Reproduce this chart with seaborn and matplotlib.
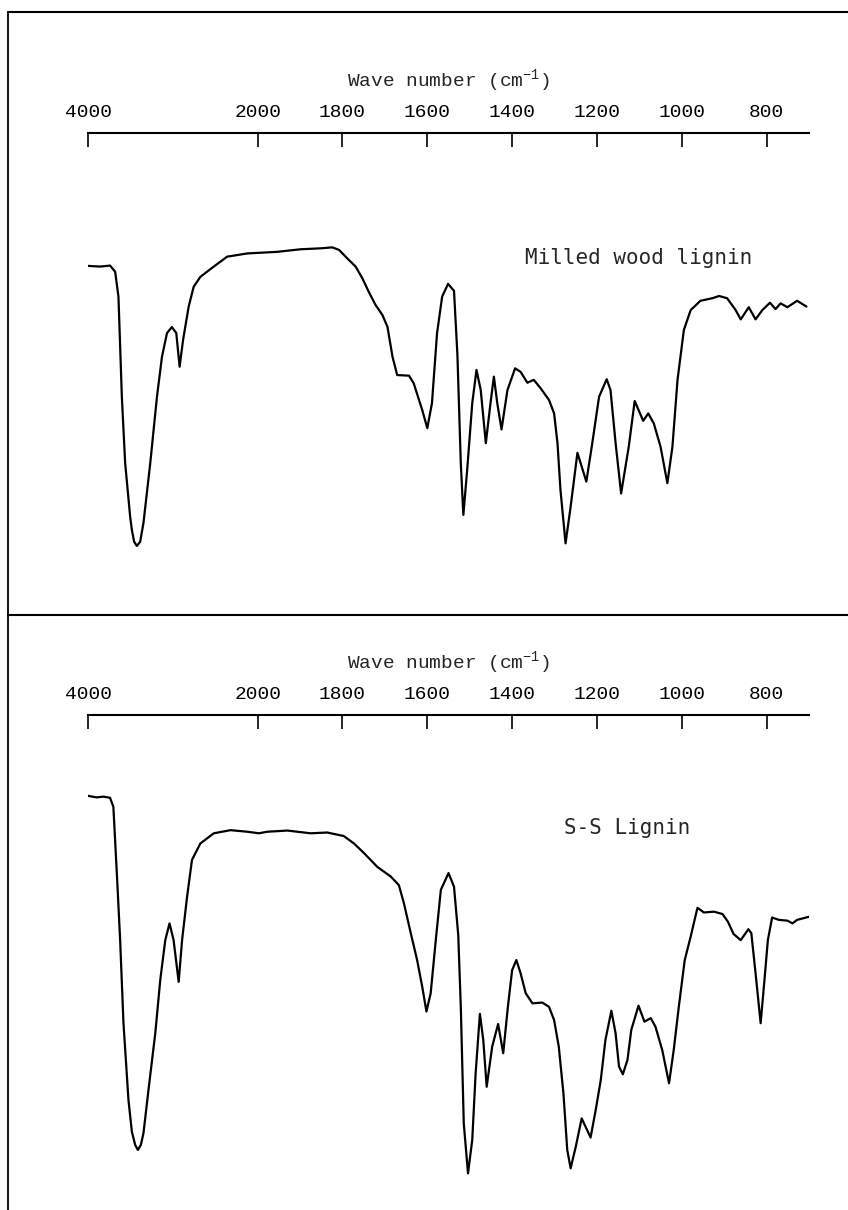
import numpy as np
import pandas as pd
import matplotlib
matplotlib.use("Agg")
import matplotlib.pyplot as plt
from matplotlib.lines import Line2D
from matplotlib.ticker import NullLocator
import seaborn as sns

# ---------------- data ----------------
tick_values = [4000, 2000, 1800, 1600, 1400, 1200, 1000, 800]
tick_labels = ["4000", "2000", "1800", "1600", "1400", "1200", "1000", "800"]

mwl_wavenumber = [4000, 3858, 3740, 3680, 3641, 3621, 3601, 3562, 3503, 3483,
                  3456, 3424, 3385, 3346, 3266, 3187, 3128, 3069, 3011, 2959,
                  2920, 2879, 2813, 2754, 2675, 2517, 2359, 2122, 1954, 1899,
                  1851, 1824, 1808, 1789, 1769, 1753, 1738, 1722, 1706, 1694,
                  1682, 1671, 1643, 1632, 1612, 1600, 1589, 1577, 1565, 1551,
                  1537, 1529, 1521, 1515, 1506, 1494, 1484, 1474, 1462, 1451,
                  1443, 1435, 1425, 1411, 1393, 1380, 1364, 1349, 1333, 1313,
                  1301, 1293, 1286, 1274, 1262, 1246, 1225, 1211, 1195, 1177,
                  1168, 1156, 1143, 1125, 1111, 1091, 1079, 1066, 1050, 1034,
                  1022, 1010, 995, 979, 956, 928, 912, 893, 873, 861,
                  842, 826, 810, 792, 779, 767, 751, 728, 706]
mwl_transmittance = [91.9, 91.7, 92.0, 90.1, 82.3, 66.7, 51.0, 30.3, 13.5, 9.4,
                     5.7, 4.4, 5.7, 11.6, 30.3, 51.0, 63.5, 70.9, 72.8, 70.9,
                     60.4, 68.8, 79.2, 85.4, 88.5, 91.7, 94.8, 95.8, 96.3, 97.1,
                     97.4, 97.7, 96.9, 94.3, 91.7, 88.0, 83.8, 79.7, 76.6, 72.9,
                     63.5, 57.8, 57.6, 55.2, 46.9, 41.2, 49.0, 70.9, 82.3, 86.3,
                     84.1, 64.1, 30.2, 14.1, 28.1, 49.0, 59.4, 53.1, 36.5, 49.0,
                     57.3, 49.0, 40.8, 53.1, 59.9, 58.8, 55.4, 56.3, 53.7, 50.0,
                     45.8, 36.5, 21.9, 5.2, 16.7, 33.5, 24.5, 36.5, 51.0, 56.5,
                     53.1, 36.5, 20.8, 35.4, 49.7, 43.5, 45.8, 42.7, 35.4, 24.0,
                     35.4, 56.3, 71.9, 78.1, 81.0, 81.8, 82.5, 81.8, 78.1, 75.2,
                     79.0, 75.2, 78.1, 80.4, 78.4, 80.2, 79.0, 81.0, 79.2]

ss_wavenumber = [4000, 3898, 3819, 3740, 3701, 3660, 3621, 3582, 3523, 3483,
                 3444, 3412, 3377, 3346, 3287, 3207, 3148, 3089, 3039, 2991,
                 2931, 2891, 2832, 2774, 2675, 2517, 2320, 2122, 1997, 1977,
                 1930, 1875, 1836, 1797, 1773, 1749, 1718, 1686, 1667, 1655,
                 1639, 1624, 1612, 1602, 1592, 1580, 1568, 1550, 1537, 1527,
                 1521, 1514, 1504, 1494, 1486, 1476, 1468, 1460, 1447, 1433,
                 1421, 1410, 1400, 1390, 1380, 1368, 1352, 1329, 1313, 1301,
                 1290, 1279, 1270, 1262, 1250, 1236, 1215, 1203, 1191, 1180,
                 1166, 1156, 1148, 1139, 1128, 1119, 1102, 1088, 1073, 1062,
                 1046, 1030, 1019, 1007, 993, 979, 963, 948, 924, 904,
                 891, 878, 861, 843, 836, 826, 814, 805, 797, 787,
                 771, 751, 739, 728, 700]
ss_transmittance = [98.5, 98.1, 98.3, 98.0, 95.7, 78.6, 61.5, 40.3, 20.5, 12.4,
                    9.0, 7.7, 9.0, 12.0, 23.1, 37.6, 51.3, 61.5, 65.8, 61.5,
                    50.8, 61.5, 72.6, 82.1, 86.3, 88.9, 89.7, 89.3, 88.9, 89.3,
                    89.6, 88.9, 89.1, 88.2, 86.3, 83.8, 80.3, 77.8, 75.6, 70.9,
                    63.3, 56.4, 49.6, 43.2, 47.9, 61.5, 74.4, 78.7, 75.2, 62.8,
                    44.4, 14.5, 1.7, 10.3, 27.4, 42.6, 35.9, 23.9, 34.2, 40.0,
                    32.5, 44.4, 53.8, 56.4, 53.0, 47.9, 45.3, 45.5, 44.4, 41.0,
                    34.2, 22.2, 7.7, 3.0, 8.5, 15.8, 10.9, 17.9, 25.6, 35.9,
                    43.4, 37.6, 29.1, 27.1, 30.8, 38.5, 44.7, 40.6, 41.5, 39.3,
                    33.3, 24.8, 33.3, 44.4, 56.4, 62.4, 69.8, 68.6, 68.8, 68.2,
                    66.2, 63.1, 61.5, 64.3, 63.3, 53.0, 40.2, 51.3, 61.5, 67.3,
                    66.7, 66.5, 65.8, 66.7, 67.5]

panel_names = ["Milled wood lignin", "S-S Lignin"]
axis_title = r"Wave number (cm$^{\mathtt{-1}}$)"

# ---------------- style ----------------
sns.set_style("white")
plt.rcParams["font.family"] = ["Liberation Mono", "DejaVu Sans Mono"]
plt.rcParams["mathtext.fontset"] = "custom"
plt.rcParams["mathtext.tt"] = "Liberation Mono"
plt.rcParams["mathtext.rm"] = "Liberation Mono"

W, H = 848, 1210
fig = plt.figure(figsize=(W / 100, H / 100), dpi=100)


def fwd(x):
    x = np.asarray(x, dtype=float)
    return np.where(x > 2000, 2000 + (x - 2000) / 5.0, x)


def inv(u):
    u = np.asarray(u, dtype=float)
    return np.where(u > 2000, 2000 + (u - 2000) * 5.0, u)


# layout in pixels: (axes top, axes bottom, T reference bottom, px per T unit)
left_px, width_px = 88, 721
panels = [
    dict(top=133, bottom=600, ref=560, scale=3.2,
         wn=mwl_wavenumber, tr=mwl_transmittance, name=panel_names[0],
         name_pos=(1102, 94.4)),
    dict(top=715, bottom=1205, ref=1180, scale=3.9,
         wn=ss_wavenumber, tr=ss_transmittance, name=panel_names[1],
         name_pos=(1128, 90.3)),
]

for p in panels:
    ax = fig.add_axes([left_px / W, 1 - p["bottom"] / H, width_px / W,
                       (p["bottom"] - p["top"]) / H])
    df = pd.DataFrame({"wavenumber": p["wn"], "transmittance": p["tr"]})
    sns.lineplot(data=df, x="wavenumber", y="transmittance", ax=ax, sort=False,
                 estimator=None, color="black", linewidth=1.6)
    for ln in ax.get_lines():
        ln.set_solid_joinstyle("round")
        ln.set_solid_capstyle("round")
    ax.set_xscale("function", functions=(fwd, inv))
    ax.set_xlim(4000, 700)
    ax.set_ylim((p["ref"] - p["bottom"]) / p["scale"],
                (p["ref"] - p["top"]) / p["scale"])
    ax.set_xticks(tick_values)
    ax.set_xticklabels(tick_labels)
    ax.xaxis.set_minor_locator(NullLocator())
    ax.xaxis.tick_top()
    ax.xaxis.set_label_position("top")
    ax.tick_params(axis="x", direction="in", length=10, width=1.2,
                   pad=8.5, labelsize=14, colors="black")
    ax.set_yticks([])
    ax.set_ylabel("")
    ax.set_xlabel(axis_title, fontsize=14, labelpad=12)
    for s in ["left", "right", "bottom"]:
        ax.spines[s].set_visible(False)
    ax.spines["top"].set_linewidth(1.5)
    ax.spines["top"].set_color("black")
    ax.patch.set_alpha(0)
    ax.text(p["name_pos"][0], p["name_pos"][1], p["name"], ha="center",
            va="center", fontsize=15, family=["DejaVu Sans Mono"])

# frame lines of the figure
x0 = 8 / W
fig.add_artist(Line2D([x0, x0], [0, 1 - 12 / H], transform=fig.transFigure,
                      color="black", lw=1.3))
fig.add_artist(Line2D([x0, 1], [1 - 12 / H, 1 - 12 / H],
                      transform=fig.transFigure, color="black", lw=1.5))
fig.add_artist(Line2D([x0, 1], [1 - 615 / H, 1 - 615 / H],
                      transform=fig.transFigure, color="black", lw=1.5))

fig.savefig("out.png", dpi=100, facecolor="white")
